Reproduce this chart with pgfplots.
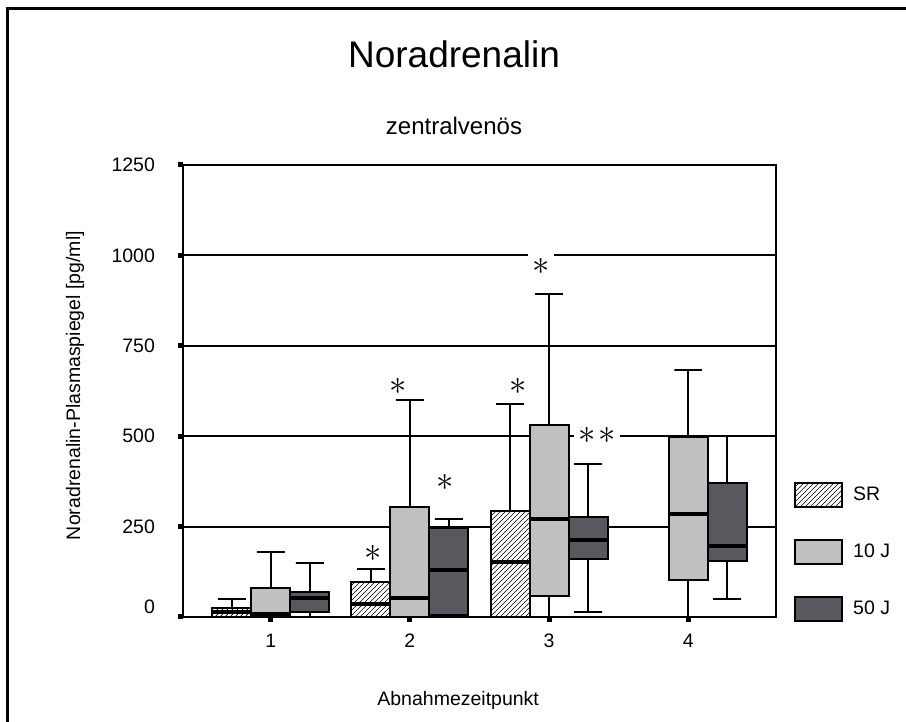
\documentclass[border=0pt]{standalone}
\usepackage{pgfplots}
\pgfplotsset{compat=1.18}
\usetikzlibrary{patterns}
\usepackage{fontspec}
\setmainfont{Liberation Sans}
\definecolor{g10}{RGB}{192,192,192}
\definecolor{g50}{RGB}{88,88,94}
\pgfdeclarepatternformonly{hatchsr}{\pgfqpoint{-1pt}{-1pt}}{\pgfqpoint{3.5pt}{3.5pt}}{\pgfqpoint{2.5pt}{2.5pt}}{%
  \pgfsetlinewidth{0.35pt}%
  \pgfpathmoveto{\pgfqpoint{0pt}{0pt}}%
  \pgfpathlineto{\pgfqpoint{2.6pt}{2.6pt}}%
  \pgfusepath{stroke}}
\begin{document}
\begin{tikzpicture}
\useasboundingbox (0pt,0pt) rectangle (453pt,361pt);
\draw[line width=1.5pt] (3.5pt,0pt) -- (3.5pt,356.5pt) -- (453pt,356.5pt);
\node[anchor=base, inner sep=0pt, font=\fontsize{18.5}{20}\selectfont] at (227pt,327pt) {Noradrenalin};
\node[anchor=base, inner sep=0pt, font=\fontsize{12}{14}\selectfont] at (227pt,293.5pt) {zentralvenös};
\begin{axis}[
  at={(91.5pt,52.5pt)}, anchor=south west,
  width=296.5pt, height=226pt, scale only axis,
  xmin=0.37, xmax=4.63, ymin=0, ymax=1250,
  xtick={1,2,3,4}, ytick={0,250,500,750,1000,1250},
  yticklabels={\raisebox{10pt}{0},250,500,750,1000,1250},
  xtick pos=bottom, ytick pos=left,
  tick align=outside, major tick length=2.5pt,
  tick style={black, line width=2.5pt},
  axis line style={line width=1.25pt},
  ymajorgrids, major grid style={black, line width=1pt},
  /pgf/number format/assume math mode=true,
  tick label style={font=\fontsize{9.75}{11}\selectfont},
  yticklabel style={xshift=-8pt},
  xticklabel style={yshift=-2.5pt},
  label style={font=\fontsize{9.75}{11}\selectfont},
  ylabel={Noradrenalin-Plasmaspiegel [pg/ml]},
  ylabel style={at={(axis description cs:-0.182,0.512)}, anchor=center},
  xlabel={Abnahmezeitpunkt},
  xlabel style={at={(axis description cs:0.464,-0.184)}, anchor=center},
  whisk/.style={forget plot, black, line width=1pt, mark=none},
  boxsr/.style={forget plot, draw=black, line width=1pt, fill=white, mark=none, postaction={pattern=hatchsr}},
  box10/.style={forget plot, draw=black, line width=1pt, fill=g10, mark=none},
  box50/.style={forget plot, draw=black, line width=1pt, fill=g50, mark=none},
  med/.style={forget plot, black, line width=2pt, mark=none},
  legend style={at={(axis description cs:1.030,0.2987)}, anchor=north west,
    draw=none, fill=none, inner sep=0pt, row sep=15.5pt, column sep=3pt,
    font=\fontsize{9.75}{11}\selectfont},
  legend cell align=left,
]
% ===== Group 1 =====
% SR: min 0, Q1 0, median 15, Q3 24, max 49
\addplot[whisk] coordinates {(0.62,0) (0.82,0) (0.72,0) (0.72,49) (0.62,49) (0.82,49)};
\addplot[boxsr] coordinates {(0.58,0) (0.86,0) (0.86,24) (0.58,24)} -- cycle;
\addplot[med] coordinates {(0.58,15) (0.86,15)};
% 10 J: min 0, Q1 0, median 8, Q3 79, max 179
\addplot[whisk] coordinates {(0.90,0) (1.10,0) (1.00,0) (1.00,179) (0.90,179) (1.10,179)};
\addplot[box10] coordinates {(0.86,0) (1.14,0) (1.14,79) (0.86,79)} -- cycle;
\addplot[med] coordinates {(0.86,8) (1.14,8)};
% 50 J: min 0, Q1 13, median 52, Q3 70, max 148
\addplot[whisk] coordinates {(1.18,0) (1.38,0) (1.28,0) (1.28,148) (1.18,148) (1.38,148)};
\addplot[box50] coordinates {(1.14,13) (1.42,13) (1.42,70) (1.14,70)} -- cycle;
\addplot[med] coordinates {(1.14,52) (1.42,52)};
% ===== Group 2 =====
% SR: 0, 0, 36, 98, 132
\addplot[whisk] coordinates {(1.62,0) (1.82,0) (1.72,0) (1.72,132) (1.62,132) (1.82,132)};
\addplot[boxsr] coordinates {(1.58,0) (1.86,0) (1.86,98) (1.58,98)} -- cycle;
\addplot[med] coordinates {(1.58,36) (1.86,36)};
% 10 J: 0, 0, 52, 304, 599
\addplot[whisk] coordinates {(1.90,0) (2.10,0) (2.00,0) (2.00,599) (1.90,599) (2.10,599)};
\addplot[box10] coordinates {(1.86,0) (2.14,0) (2.14,304) (1.86,304)} -- cycle;
\addplot[med] coordinates {(1.86,52) (2.14,52)};
% 50 J: 0, 5, 130, 245, 272
\addplot[whisk] coordinates {(2.18,0) (2.38,0) (2.28,0) (2.28,272) (2.18,272) (2.38,272)};
\addplot[box50] coordinates {(2.14,5) (2.42,5) (2.42,245) (2.14,245)} -- cycle;
\addplot[med] coordinates {(2.14,130) (2.42,130)};
% ===== Group 3 =====
% SR: 0, 0, 153, 293, 589
\addplot[whisk] coordinates {(2.62,0) (2.82,0) (2.72,0) (2.72,589) (2.62,589) (2.82,589)};
\addplot[boxsr] coordinates {(2.58,0) (2.86,0) (2.86,293) (2.58,293)} -- cycle;
\addplot[med] coordinates {(2.58,153) (2.86,153)};
% 10 J: 0, 59, 270, 531, 893
\addplot[whisk] coordinates {(2.90,0) (3.10,0) (3.00,0) (3.00,893) (2.90,893) (3.10,893)};
\addplot[box10] coordinates {(2.86,59) (3.14,59) (3.14,531) (2.86,531)} -- cycle;
\addplot[med] coordinates {(2.86,270) (3.14,270)};
% 50 J: 13, 161, 213, 277, 422
\addplot[whisk] coordinates {(3.18,13) (3.38,13) (3.28,13) (3.28,422) (3.18,422) (3.38,422)};
\addplot[box50] coordinates {(3.14,161) (3.42,161) (3.42,277) (3.14,277)} -- cycle;
\addplot[med] coordinates {(3.14,213) (3.42,213)};
% ===== Group 4 =====
% 10 J: 0, 102, 285, 499, 682
\addplot[whisk] coordinates {(3.90,0) (4.10,0) (4.00,0) (4.00,682) (3.90,682) (4.10,682)};
\addplot[box10] coordinates {(3.86,102) (4.14,102) (4.14,499) (3.86,499)} -- cycle;
\addplot[med] coordinates {(3.86,285) (4.14,285)};
% 50 J: 50, 155, 197, 370, 500
\addplot[whisk] coordinates {(4.18,50) (4.38,50) (4.28,50) (4.28,500) (4.18,500) (4.38,500)};
\addplot[box50] coordinates {(4.14,155) (4.42,155) (4.42,370) (4.14,370)} -- cycle;
\addplot[med] coordinates {(4.14,197) (4.42,197)};
% legend
\addlegendimage{legend image code/.code={\draw[line width=1pt, fill=white, postaction={pattern=hatchsr}] (0pt,-6pt) rectangle (23.5pt,6pt);}}
\addlegendentry{SR}
\addlegendimage{legend image code/.code={\draw[line width=1pt, fill=g10] (0pt,-6pt) rectangle (23.5pt,6pt);}}
\addlegendentry{10 J}
\addlegendimage{legend image code/.code={\draw[line width=1pt, fill=g50] (0pt,-6pt) rectangle (23.5pt,6pt);}}
\addlegendentry{50 J}
% significance marks
\node[fill=white, inner sep=2pt, font=\fontsize{17.28}{17.28}\selectfont] at (axis cs:1.736,175) {$\ast$};
\node[fill=white, inner sep=2pt, font=\fontsize{17.28}{17.28}\selectfont] at (axis cs:1.915,637) {$\ast$};
\node[fill=white, inner sep=2pt, font=\fontsize{17.28}{17.28}\selectfont] at (axis cs:2.253,373) {$\ast$};
\node[fill=white, inner sep=2pt, font=\fontsize{17.28}{17.28}\selectfont] at (axis cs:2.777,637) {$\ast$};
\node[fill=white, inner sep=2pt, font=\fontsize{17.28}{17.28}\selectfont] at (axis cs:2.942,970) {$\ast$};
\node[fill=white, inner xsep=2.5pt, inner ysep=2pt, font=\fontsize{17.28}{17.28}\selectfont] at (axis cs:3.345,503) {${\ast}\hspace{1pt}{\ast}$};
\end{axis}
\end{tikzpicture}
\end{document}
